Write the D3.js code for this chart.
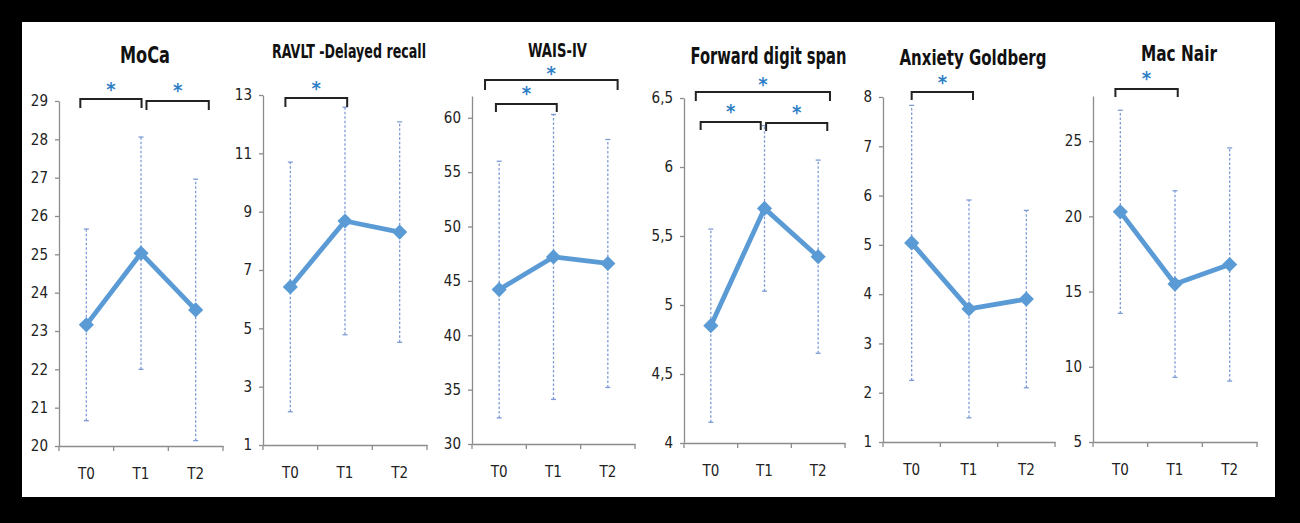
<!DOCTYPE html>
<html>
<head>
<meta charset="utf-8">
<script src="https://cdn.jsdelivr.net/npm/d3@7/dist/d3.min.js"></script>
<style>
  html, body { margin: 0; padding: 0; background: #000; }
  svg { display: block; }
  text { font-family: "Liberation Sans Narrow", "DejaVu Sans Condensed", "Arial Narrow", sans-serif; }
</style>
</head>
<body>
<svg id="chart" width="1300" height="523"></svg>
<script>
// ---------- DATA ----------
const categories = ["T0", "T1", "T2"];

const titles = ["MoCa", "RAVLT -Delayed recall", "WAIS-IV", "Forward digit span", "Anxiety Goldberg", "Mac Nair"];

const mocaMean = [23.16, 25.03, 23.55];
const mocaSD   = [2.50, 3.03, 3.41];

const ravltMean = [6.42, 8.68, 8.30];
const ravltSD   = [4.28, 3.90, 3.78];

const waisMean = [44.2, 47.2, 46.6];
const waisSD   = [11.8, 13.1, 11.4];

const digitMean = [4.85, 5.70, 5.35];
const digitSD   = [0.70, 0.60, 0.70];

const anxietyMean = [5.04, 3.70, 3.90];
const anxietySD   = [2.79, 2.21, 1.80];

const macnairMean = [20.3, 15.5, 16.8];
const macnairSD   = [6.75, 6.2, 7.75];

const mocaTicks    = [20, 21, 22, 23, 24, 25, 26, 27, 28, 29];
const ravltTicks   = [1, 3, 5, 7, 9, 11, 13];
const waisTicks    = [30, 35, 40, 45, 50, 55, 60];
const digitTicks   = [4, 4.5, 5, 5.5, 6, 6.5];
const anxietyTicks = [1, 2, 3, 4, 5, 6, 7, 8];
const macnairTicks = [5, 10, 15, 20, 25];

const mocaDomain    = [20, 29];
const ravltDomain   = [1, 13];
const waisDomain    = [30, 62];
const digitDomain   = [4, 6.5];
const anxietyDomain = [1, 8];
const macnairDomain = [5, 28];

// significance brackets: [from category, to category]
const mocaSig    = [[0, 1], [1, 2]];
const ravltSig   = [[0, 1]];
const waisSig    = [[0, 2], [0, 1]];
const digitSig   = [[0, 2], [0, 1], [1, 2]];
const anxietySig = [[0, 1]];
const macnairSig = [[0, 1]];

// ---------- LAYOUT / STYLE ----------
// bracket offsets (da, db) are in category units relative to the compared categories
const panels = [
  { title: titles[0], mean: mocaMean, sd: mocaSD, ticks: mocaTicks, domain: mocaDomain, sig: mocaSig,
    x0: 59, x1: 223, yTop: 101, yBot: 446, titleY: 63, titleW: 50, titleSize: 23,
    br: [{ da: -0.11, db: 0.01, y: 99, d: 9, sy: 87 }, { da: 0.10, db: 0.24, y: 101, d: 9, sy: 88 }] },
  { title: titles[1], mean: ravltMean, sd: ravltSD, ticks: ravltTicks, domain: ravltDomain, sig: ravltSig,
    x0: 263, x1: 427, yTop: 95, yBot: 445, titleY: 58, titleW: 154, titleSize: 19,
    br: [{ da: -0.09, db: 0.04, y: 98, d: 9, sy: 86 }] },
  { title: titles[2], mean: waisMean, sd: waisSD, ticks: waisTicks, domain: waisDomain, sig: waisSig,
    x0: 472, x1: 635, yTop: 96, yBot: 444, titleY: 57, titleW: 59, titleSize: 19,
    br: [{ da: -0.26, db: 0.18, y: 80, d: 10, sy: 71 }, { da: -0.06, db: 0.06, y: 104, d: 8, sy: 91 }] },
  { title: titles[3], mean: digitMean, sd: digitSD, ticks: digitTicks, domain: digitDomain, sig: digitSig,
    x0: 684, x1: 845, yTop: 98, yBot: 443, titleY: 64, titleW: 156, titleSize: 23,
    br: [{ da: -0.28, db: 0.22, y: 92, d: 9, sy: 82 }, { da: -0.19, db: -0.07, y: 122, d: 8, sy: 109 },
         { da: 0.03, db: 0.17, y: 123, d: 8, sy: 110 }] },
  { title: titles[4], mean: anxietyMean, sd: anxietySD, ticks: anxietyTicks, domain: anxietyDomain, sig: anxietySig,
    x0: 883, x1: 1055, yTop: 97, yBot: 442, titleY: 65, titleW: 147, titleSize: 22,
    br: [{ da: 0.0, db: 0.07, y: 92, d: 8, sy: 80 }] },
  { title: titles[5], mean: macnairMean, sd: macnairSD, ticks: macnairTicks, domain: macnairDomain, sig: macnairSig,
    x0: 1093, x1: 1257, yTop: 96, yBot: 442, titleY: 61, titleW: 76, titleSize: 22,
    br: [{ da: -0.09, db: 0.05, y: 89, d: 8, sy: 76 }] }
];

const lineColor = "#5b9bd5";
const errColor = "#7f9bd6";
const axisColor = "#8c8c8c";
const starColor = "#2f7fc6";

const svg = d3.select("#chart");

// white plotting area inside black frame
svg.append("rect").attr("x", 0).attr("y", 0).attr("width", 1300).attr("height", 523).attr("fill", "#000");
svg.append("rect").attr("x", 22).attr("y", 22).attr("width", 1253).attr("height", 475).attr("fill", "#fff");

const fmt = v => String(v).replace(".", ",");

panels.forEach(p => {
  const g = svg.append("g");
  const y = d3.scaleLinear().domain(p.domain).range([p.yBot, p.yTop]);
  const xb = d3.scaleBand().domain(categories).range([p.x0, p.x1]);
  const xc = c => xb(c) + xb.bandwidth() / 2;
  const xi = d3.scaleLinear().domain([0, categories.length - 1])
    .range([xc(categories[0]), xc(categories[categories.length - 1])]);

  // y axis
  const yAxis = d3.axisLeft(y).tickValues(p.ticks).tickSize(4).tickSizeOuter(0).tickPadding(7).tickFormat(fmt);
  const ya = g.append("g").attr("transform", `translate(${p.x0},0)`).call(yAxis);
  ya.select(".domain").attr("stroke", axisColor).attr("stroke-width", 1.3);
  ya.selectAll(".tick line").attr("stroke", axisColor).attr("stroke-width", 1.3);
  ya.selectAll(".tick text").attr("fill", "#222").attr("font-size", 15);

  // x axis: labels centred in bands, tick marks on band boundaries
  const xAxis = d3.axisBottom(xb).tickSize(0).tickSizeOuter(0).tickPadding(22);
  const xa = g.append("g").attr("transform", `translate(0,${p.yBot})`).call(xAxis);
  xa.select(".domain").attr("stroke", axisColor).attr("stroke-width", 1.3);
  xa.selectAll(".tick text").attr("fill", "#222").attr("font-size", 15);
  const bounds = d3.range(categories.length + 1).map(i => p.x0 + i * xb.step());
  g.selectAll(".xb").data(bounds).join("line")
    .attr("x1", d => d).attr("x2", d => d)
    .attr("y1", p.yBot).attr("y2", p.yBot + 5)
    .attr("stroke", axisColor).attr("stroke-width", 1.3);

  const pts = categories.map((c, i) => ({ c, m: p.mean[i], s: p.sd[i] }));

  // error bars
  g.selectAll(".err").data(pts).join("line")
    .attr("x1", d => xc(d.c)).attr("x2", d => xc(d.c))
    .attr("y1", d => y(d.m - d.s)).attr("y2", d => y(d.m + d.s))
    .attr("stroke", errColor).attr("stroke-width", 1.3).attr("stroke-dasharray", "2.5,2");
  ["top", "bot"].forEach(k => {
    g.selectAll(".cap" + k).data(pts).join("line")
      .attr("x1", d => xc(d.c) - 2.5).attr("x2", d => xc(d.c) + 2.5)
      .attr("y1", d => y(k === "top" ? d.m + d.s : d.m - d.s))
      .attr("y2", d => y(k === "top" ? d.m + d.s : d.m - d.s))
      .attr("stroke", errColor).attr("stroke-width", 1.3);
  });

  // mean line
  const line = d3.line().x(d => xc(d.c)).y(d => y(d.m));
  g.append("path").datum(pts).attr("d", line)
    .attr("fill", "none").attr("stroke", lineColor).attr("stroke-width", 4.8).attr("stroke-linejoin", "round");

  // diamond markers
  const diamond = d3.symbol().type(d3.symbolSquare).size(115);
  g.selectAll(".mk").data(pts).join("path")
    .attr("d", diamond)
    .attr("transform", d => `translate(${xc(d.c)},${y(d.m)}) rotate(45)`)
    .attr("fill", lineColor);

  // title
  g.append("text").text(p.title)
    .attr("x", (p.x0 + p.x1) / 2 + 4).attr("y", p.titleY)
    .attr("text-anchor", "middle").attr("font-weight", "bold")
    .attr("font-size", p.titleSize).attr("fill", "#111")
    .attr("textLength", p.titleW).attr("lengthAdjust", "spacingAndGlyphs");

  // significance brackets
  p.sig.forEach((s, k) => {
    const b = p.br[k];
    const xa0 = xi(s[0] + b.da);
    const xa1 = xi(s[1] + b.db);
    g.append("path")
      .attr("d", `M${xa0},${b.y + b.d}V${b.y}H${xa1}V${b.y + b.d}`)
      .attr("fill", "none").attr("stroke", "#222").attr("stroke-width", 2);
    g.append("text").text("*")
      .attr("x", (xa0 + xa1) / 2).attr("y", b.sy + 9)
      .attr("text-anchor", "middle").attr("font-size", 20).attr("font-weight", "bold")
      .attr("fill", starColor);
  });
});
</script>
</body>
</html>
